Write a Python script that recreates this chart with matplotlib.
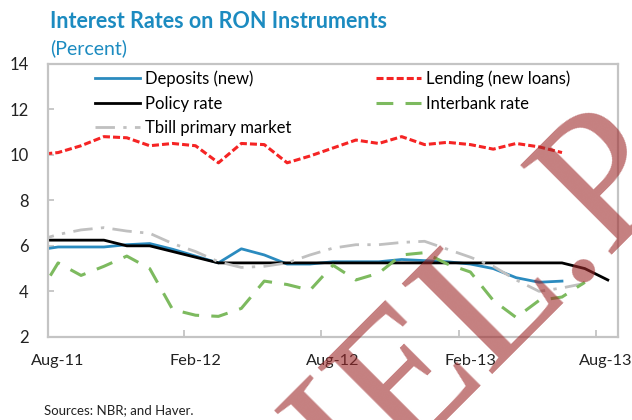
import matplotlib
matplotlib.use("Agg")
import matplotlib.pyplot as plt
import matplotlib.transforms as mtransforms
import numpy as np

# monthly data, Jul-11 (index -1) through Aug-13 (index 24)
months = np.arange(-1, 25)
month_labels = ["Aug-11", "Feb-12", "Aug-12", "Feb-13", "Aug-13"]
label_pos = [0, 6, 12, 18, 24]

deposits = [5.8, 5.95, 5.95, 5.95, 6.05, 6.1, 5.85, 5.55, 5.25, 5.87, 5.6, 5.2,
            5.2, 5.3, 5.3, 5.3, 5.4, 5.35, 5.3, 5.2, 5.0, 4.6, 4.4, 4.45]
lending = [10.0, 10.1, 10.4, 10.8, 10.75, 10.4, 10.5, 10.4, 9.65, 10.5, 10.45, 9.65,
           9.95, 10.3, 10.65, 10.5, 10.8, 10.45, 10.55, 10.45, 10.25, 10.5, 10.35, 10.1]
policy = [6.25, 6.25, 6.25, 6.25, 6.0, 6.0, 5.75, 5.5, 5.25, 5.25, 5.25, 5.25, 5.25,
          5.25, 5.25, 5.25, 5.25, 5.25, 5.25, 5.25, 5.25, 5.25, 5.25, 5.25, 5.0, 4.5]
interbank = [3.6, 5.25, 4.7, 5.1, 5.55, 5.0, 3.2, 2.95, 2.9, 3.25, 4.45, 4.3, 4.05,
             5.15, 4.5, 4.8, 5.6, 5.7, 5.2, 4.85, 3.6, 2.85, 3.6, 3.75, 4.4]
tbill = [6.2, 6.5, 6.7, 6.8, 6.65, 6.55, 6.1, 5.75, 5.3, 5.05, 5.1, 5.25, 5.6,
         5.9, 6.05, 6.05, 6.15, 6.2, 5.85, 5.5, 5.1, 4.5, 4.0, 4.15, 4.35]

fig = plt.figure(figsize=(6.32, 4.2), dpi=100)
ax = fig.add_axes([0.076, 0.198, 0.902, 0.65])

ax.plot(months[:len(deposits)], deposits, color="#2b8bbf", lw=2, label="Deposits (new)")
ax.plot(months[:len(policy)], policy, color="black", lw=2, label="Policy rate")
ax.plot(months[:len(tbill)], tbill, color="#c0c0c0", lw=2, dashes=(7, 3, 1.2, 3),
        label="Tbill primary market")
ax.plot(months[:len(lending)], lending, color="#f52424", lw=2.2, dashes=(2.3, 1.0),
        label="Lending (new loans)")
ax.plot(months[:len(interbank)], interbank, color="#7dba5f", lw=2.2, dashes=(5.5, 4),
        label="Interbank rate")

ax.set_xlim(-0.44, 24.45)
ax.set_ylim(2, 14)
ax.set_yticks(range(2, 15, 2))
ax.set_xticks(label_pos)
ax.set_xticklabels(month_labels)
ax.set_xticks([5.5, 11.5, 17.5, 23.5], minor=True)
ax.tick_params(axis="x", which="major", length=0, pad=12, labelsize=11.7, labelcolor="#222222")
ax.tick_params(axis="x", which="minor", direction="in", length=5, width=1.2, color="#bfbfbf")
ax.tick_params(axis="y", direction="in", length=4, width=1.2, color="#bfbfbf",
               pad=14, labelsize=12, labelcolor="#222222")
for lab in ax.get_xticklabels() + ax.get_yticklabels():
    lab.set_family("Lato")
# last label sits right against the figure edge; nudge it in a little
last = ax.get_xticklabels()[-1]
last.set_transform(last.get_transform() +
                   mtransforms.ScaledTranslation(-2 / 100, 0, fig.dpi_scale_trans))

for s in ax.spines.values():
    s.set_color("#c4c4c4")
    s.set_linewidth(1.6)

ax.legend(loc="upper left", bbox_to_anchor=(0.082, 0.975), ncol=2, frameon=False,
          prop={"family": "Lato", "size": 12}, handlelength=2.7, handletextpad=0.3,
          columnspacing=5.1, labelspacing=0.5, borderpad=0, borderaxespad=0)

fig.text(50 / 632, 1 - 21 / 420, "Interest Rates on RON Instruments", family="Lato",
         weight="bold", size=15.5, color="#1c8bc0", va="center")
fig.text(50 / 632, 1 - 48 / 420, "(Percent)", family="Lato", size=14,
         color="#1c8bc0", va="center")
fig.text(44 / 632, 1 - 410 / 420, "Sources: NBR; and Haver.", family="Lato", size=9.5,
         color="#222222", va="center")

# watermark
fig.text(460 / 632, 1 - 335 / 420, "HEL.P", family="Liberation Serif", size=140,
         color="#9e2a2b", alpha=0.6, rotation=45, ha="center", va="center")

fig.savefig("out.png", dpi=100)
